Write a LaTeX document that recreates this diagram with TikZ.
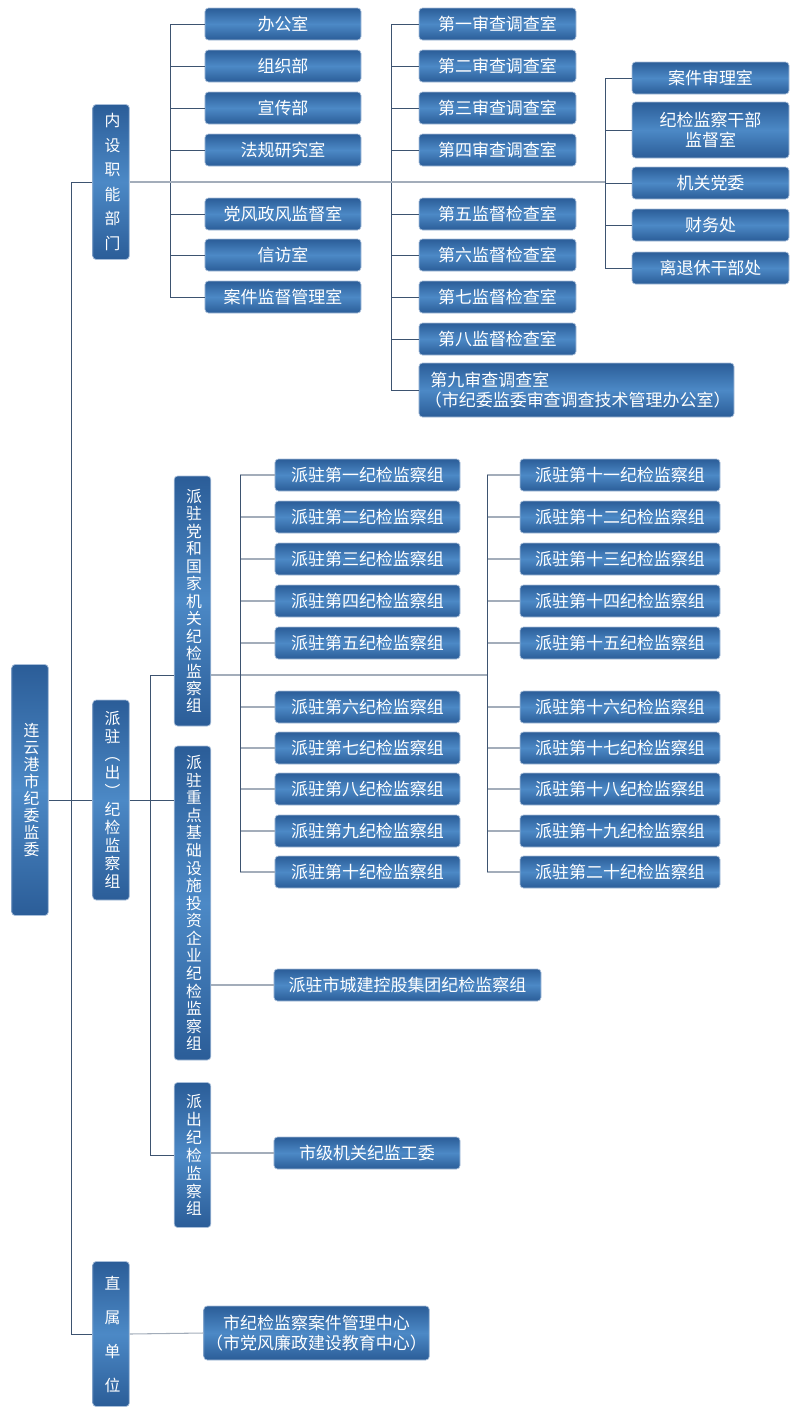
\documentclass[tikz,border=0pt]{standalone}
\usepackage{fontspec}
\setmainfont{Noto Sans CJK SC}
\definecolor{boxdark}{HTML}{2B5D98}
\definecolor{boxlight}{HTML}{4C89C6}
\definecolor{boxline}{HTML}{A9BFDA}
\definecolor{linkdark}{HTML}{3D5370}
\definecolor{linklight}{HTML}{A3ADBA}
\tikzset{
  hbox/.style={draw=boxline, line width=0.6pt, rounded corners=3pt, top color=boxdark, bottom color=boxdark, middle color=boxlight,
    text=white, font=\fontsize{14.5}{16}\selectfont, minimum height=0.96cm, inner sep=2pt},
  vbox/.style={hbox, text width=1.1em, align=center, minimum width=1.1cm, font=\fontsize{13.5}{15}\selectfont},
  link/.style={draw=linkdark, line width=0.7pt},
  linkl/.style={draw=linklight, line width=0.9pt}
}
\begin{document}
\begin{tikzpicture}[x=0.03cm,y=-0.03cm]
\useasboundingbox (0,0) rectangle (800,1422);
% root and first level
\node[vbox, minimum height=7.53cm, font=\fontsize{13.5}{14.5}\selectfont] (root) at (30,790) {连\\云\\港\\市\\纪\\委\\监\\委};
\node[vbox, minimum height=4.65cm, font=\fontsize{13.5}{21}\selectfont] (nei) at (111,182) {内\\设\\职\\能\\部\\门};
\node[vbox, minimum height=6cm, font=\fontsize{13.5}{15.5}\selectfont] (pai) at (111,800) {派\\驻\\︵\\出\\︶\\纪\\检\\监\\察\\组};
\node[vbox, minimum height=4.35cm, font=\fontsize{13.5}{29}\selectfont] (zhi) at (111,1334) {直\\属\\单\\位};
\coordinate (t) at (71,0);
\draw[link] (t |- nei) -- (t |- zhi);
\draw[link] (root.east |- pai) -- (pai.west);
\draw[link] (t |- nei) -- (nei.west);
\draw[link] (t |- zhi) -- (zhi.west);

% internal departments
\coordinate (b1) at (170,0);
\coordinate (b2) at (391,0);
\coordinate (b3) at (605,0);
\foreach \n/\y/\t in {1/24/办公室, 2/66/组织部, 3/108/宣传部, 4/150/法规研究室, 5/214/党风政风监督室, 6/255/信访室, 7/297/案件监督管理室}{
  \node[hbox, minimum width=4.68cm] (a\n) at (283,\y) {\t};
  \draw[link] (a\n.west) -- (b1 |- a\n);
}
\draw[link] (b1 |- a1) -- (b1 |- a7);
\foreach \n/\y/\t in {1/24/第一审查调查室, 2/66/第二审查调查室, 3/108/第三审查调查室, 4/150/第四审查调查室, 5/214/第五监督检查室, 6/255/第六监督检查室, 7/297/第七监督检查室, 8/339/第八监督检查室}{
  \node[hbox, minimum width=4.71cm] (c\n) at (497.5,\y) {\t};
  \draw[link] (c\n.west) -- (b2 |- c\n);
}
\node[hbox, minimum width=9.45cm, minimum height=1.62cm, align=left, text width=9.1cm, font=\fontsize{14.5}{17}\selectfont] (c9) at (576.5,390) {\ 第九审查调查室\\（市纪委监委审查调查技术管理办公室）};
\draw[link] (c9.west) -- (b2 |- c9);
\draw[link] (b2 |- c1) -- (b2 |- c9);
\node[hbox, minimum width=4.71cm] (d1) at (710.5,78) {案件审理室};
\node[hbox, minimum width=4.71cm, minimum height=1.68cm, align=center, font=\fontsize{14.5}{17}\selectfont] (d2) at (710.5,130) {纪检监察干部\\监督室};
\node[hbox, minimum width=4.71cm] (d3) at (710.5,183) {机关党委};
\node[hbox, minimum width=4.71cm] (d4) at (710.5,225) {财务处};
\node[hbox, minimum width=4.71cm] (d5) at (710.5,268) {离退休干部处};
\foreach \n in {1,...,5}{\draw[link] (d\n.west) -- (b3 |- d\n);}
\draw[link] (b3 |- d1) -- (b3 |- d5);
\draw[linkl] (nei.east) -- (b3 |- nei);

% stationed groups
\node[vbox, minimum height=7.5cm, font=\fontsize{13.5}{14.9}\selectfont] (p1) at (192.5,601) {派\\驻\\党\\和\\国\\家\\机\\关\\纪\\检\\监\\察\\组};
\node[vbox, minimum height=9.42cm, font=\fontsize{13.5}{15}\selectfont] (p2) at (192.5,903) {派\\驻\\重\\点\\基\\础\\设\\施\\投\\资\\企\\业\\纪\\检\\监\\察\\组};
\node[vbox, minimum height=4.35cm, font=\fontsize{13.5}{15.3}\selectfont] (p3) at (192.5,1155) {派\\出\\纪\\检\\监\\察\\组};
\coordinate (b4) at (150,675);
\coordinate (b5) at (240,0);
\coordinate (b6) at (487,0);
\draw[link] (b4) -- (b4 |- p3);
\draw[link] (pai.east) -- (p2.west |- pai);
\draw[link] (b4) -- (p1.west |- b4);
\draw[link] (b4 |- p3) -- (p3.west);
\draw[linkl] (p1.east |- b4) -- (b6 |- b4);
\foreach \n/\y/\t/\s in {1/475/一/十一, 2/517/二/十二, 3/559/三/十三, 4/601/四/十四, 5/643/五/十五, 6/707/六/十六, 7/748/七/十七, 8/789/八/十八, 9/831/九/十九, 10/872/十/二十}{
  \node[hbox, minimum width=5.55cm] (e\n) at (367.5,\y) {派驻第\t 纪检监察组};
  \node[hbox, minimum width=6cm] (f\n) at (620,\y) {派驻第\s 纪检监察组};
  \draw[linkl] (e\n.west) -- (b5 |- e\n);
  \draw[linkl] (f\n.west) -- (b6 |- f\n);
}
\draw[link] (b5 |- e1) -- (b5 |- e10);
\draw[link] (b6 |- f1) -- (b6 |- f10);
\node[hbox, minimum width=8.01cm] (g1) at (407.5,985) {派驻市城建控股集团纪检监察组};
\draw[linkl] (p2.east |- g1) -- (g1.west);
\node[hbox, minimum width=5.58cm] (g2) at (367,1153) {市级机关纪监工委};
\draw[linkl] (p3.east |- g2) -- (g2.west);

% directly affiliated
\node[hbox, minimum width=6.69cm, minimum height=1.62cm, align=center, font=\fontsize{14.5}{17}\selectfont] (h1) at (316.5,1333) {市纪检监察案件管理中心\\（市党风廉政建设教育中心）};
\draw[linkl] (zhi.east) -- (h1.west);
\end{tikzpicture}
\end{document}
